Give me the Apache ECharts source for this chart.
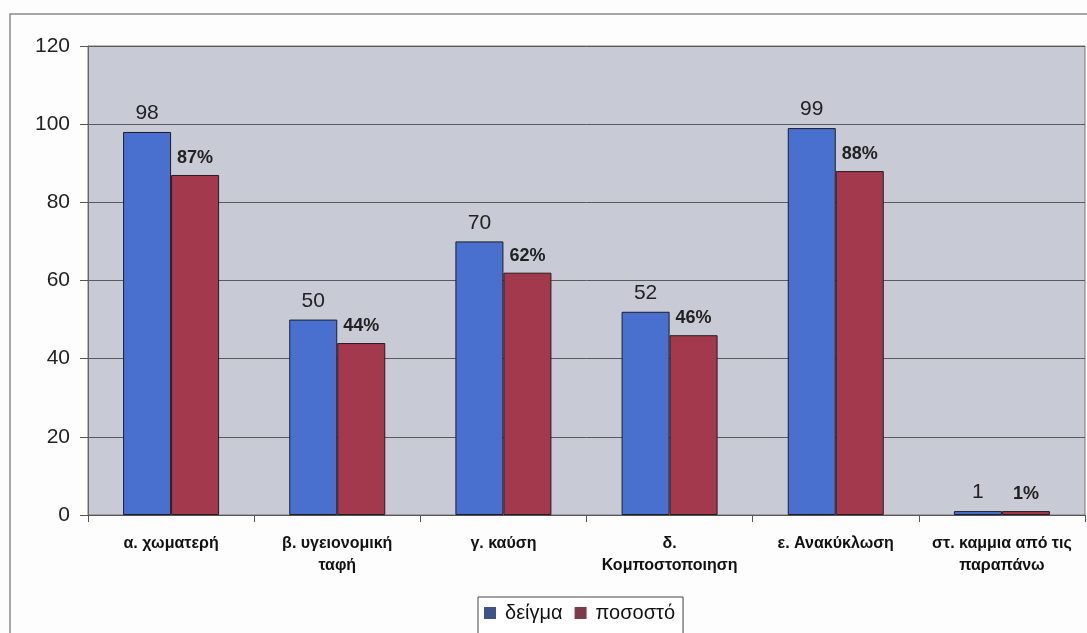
<!DOCTYPE html>
<html>
<head>
<meta charset="utf-8">
<script src="https://cdn.jsdelivr.net/npm/echarts@6/dist/echarts.min.js"></script>
<style>
  html, body { margin: 0; padding: 0; background: #fdfdfd; }
  #chart { width: 1087px; height: 633px; }
</style>
</head>
<body>
<div id="chart"></div>
<script>
// Waste-management answers: sample count and share per option
const categories = [
  'α. χωματερή',
  'β. υγειονομική\nταφή',
  'γ. καύση',
  'δ.\nΚομποστοποιηση',
  'ε. Ανακύκλωση',
  'στ. καμμια από τις\nπαραπάνω'
];
const sampleCounts = [98, 50, 70, 52, 99, 1];
const percentShares = [87, 44, 62, 46, 88, 1];
const yTicks = { min: 0, max: 120, interval: 20 };

const blue = '#4a70cf';
const red = '#a2394d';

const chart = echarts.init(document.getElementById('chart'));
chart.setOption({
  backgroundColor: '#fdfdfd',
  animation: false,
  textStyle: { fontFamily: 'Liberation Sans, Arial, sans-serif' },
  graphic: [
    {
      type: 'rect',
      shape: { x: 10, y: 14, width: 1100, height: 640 },
      style: { fill: 'none', stroke: '#8a8a8a', lineWidth: 1.5 },
      silent: true,
      z: -1
    }
  ],
  grid: {
    left: 88, right: 2, top: 46, bottom: 118,
    show: true,
    backgroundColor: '#c8cad6',
    borderColor: '#777',
    borderWidth: 1
  },
  legend: {
    left: 478,
    top: 597,
    orient: 'horizontal',
    backgroundColor: '#ffffff',
    borderColor: '#444',
    borderWidth: 1,
    padding: [6, 8, 12, 6],
    itemWidth: 12,
    itemHeight: 12,
    itemGap: 12,
    icon: 'rect',
    textStyle: {
      fontSize: 20,
      color: '#111',
      padding: [0, 0, 0, 4],
      fontFamily: 'Liberation Sans, Arial, sans-serif'
    },
    data: [
      { name: 'δείγμα', itemStyle: { color: '#3e5387', borderWidth: 0 } },
      { name: 'ποσοστό', itemStyle: { color: '#7d3a4c', borderWidth: 0 } }
    ]
  },
  xAxis: {
    type: 'category',
    data: categories,
    axisLine: { lineStyle: { color: '#555', width: 1 } },
    axisTick: { show: true, length: 7, lineStyle: { color: '#555' } },
    axisLabel: {
      interval: 0,
      margin: 18,
      fontSize: 16,
      fontWeight: 'bold',
      color: '#111',
      lineHeight: 22
    }
  },
  yAxis: {
    type: 'value',
    min: yTicks.min,
    max: yTicks.max,
    interval: yTicks.interval,
    axisLine: { show: true, lineStyle: { color: '#666' } },
    axisTick: { show: true, length: 8, lineStyle: { color: '#555' } },
    axisLabel: { fontSize: 21, color: '#222', margin: 18 },
    splitLine: { lineStyle: { color: '#5a5a5a', width: 1 } }
  },
  series: [
    {
      name: 'δείγμα',
      type: 'bar',
      data: sampleCounts,
      barWidth: 48,
      barGap: '0%',
      itemStyle: { color: blue, borderColor: '#1d1d2a', borderWidth: 1 },
      label: {
        show: true,
        position: 'top',
        distance: 8,
        fontSize: 21,
        color: '#222'
      }
    },
    {
      name: 'ποσοστό',
      type: 'bar',
      data: percentShares,
      barWidth: 48,
      itemStyle: { color: red, borderColor: '#2a1a1d', borderWidth: 1 },
      label: {
        show: true,
        position: 'top',
        distance: 8,
        fontSize: 18,
        fontWeight: 'bold',
        color: '#222',
        formatter: '{c}%'
      }
    }
  ]
});
</script>
</body>
</html>
